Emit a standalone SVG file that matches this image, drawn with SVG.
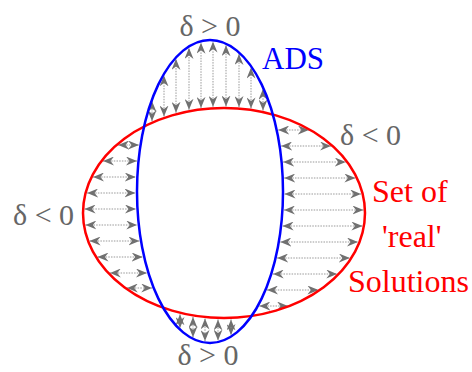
<svg xmlns="http://www.w3.org/2000/svg" width="472" height="372" viewBox="0 0 472 372">
<style>
.arr{stroke:#999999;stroke-width:1;stroke-dasharray:1.5 1.2;fill:none;marker-start:url(#head);marker-end:url(#head)}
.lbl{font-family:"Liberation Serif","Times New Roman",serif;font-size:30px;fill:#666}
.red{font-family:"Liberation Serif","Times New Roman",serif;font-size:32px;fill:#ff0000}
.blue{font-family:"Liberation Serif","Times New Roman",serif;font-size:31px;fill:#0000ff}
</style>
<defs>
<marker id="head" markerUnits="userSpaceOnUse" markerWidth="11" markerHeight="9" refX="11" refY="4.5" orient="auto-start-reverse" viewBox="0 0 11 9">
<path d="M0,0 L11,4.5 L0,9 L3.5,4.5 Z" fill="#707070"/>
</marker>
</defs>
<rect width="472" height="372" fill="#ffffff"/>
<g id="connectors">
<line class="arr" x1="152" y1="121.2" x2="152" y2="101"/>
<line class="arr" x1="164" y1="116.5" x2="164" y2="75.4"/>
<line class="arr" x1="176" y1="112.8" x2="176" y2="58.9"/>
<line class="arr" x1="189" y1="109.8" x2="189" y2="47.9"/>
<line class="arr" x1="201" y1="107.9" x2="201" y2="42.7"/>
<line class="arr" x1="213" y1="106.8" x2="213" y2="41.6"/>
<line class="arr" x1="226" y1="106.5" x2="226" y2="45.2"/>
<line class="arr" x1="239" y1="107.1" x2="239" y2="54"/>
<line class="arr" x1="251" y1="108.4" x2="251" y2="67.6"/>
<line class="arr" x1="263" y1="110.6" x2="263" y2="88.8"/>
<line class="arr" x1="278.2" y1="130" x2="308.9" y2="130"/>
<line class="arr" x1="281.1" y1="146" x2="331.1" y2="146"/>
<line class="arr" x1="283.1" y1="162" x2="345.8" y2="162"/>
<line class="arr" x1="284.2" y1="178" x2="355.4" y2="178"/>
<line class="arr" x1="284.5" y1="194" x2="361.2" y2="194"/>
<line class="arr" x1="284" y1="210" x2="363.5" y2="210"/>
<line class="arr" x1="282.6" y1="226" x2="362.4" y2="226"/>
<line class="arr" x1="280.3" y1="242" x2="358" y2="242"/>
<line class="arr" x1="277.1" y1="258" x2="349.9" y2="258"/>
<line class="arr" x1="272.7" y1="274" x2="337.3" y2="274"/>
<line class="arr" x1="267" y1="290" x2="318.4" y2="290"/>
<line class="arr" x1="259.3" y1="306" x2="288" y2="306"/>
<line class="arr" x1="118.1" y1="145" x2="139" y2="145"/>
<line class="arr" x1="103" y1="161" x2="137" y2="161"/>
<line class="arr" x1="93" y1="177" x2="135.8" y2="177"/>
<line class="arr" x1="87.1" y1="193" x2="135.5" y2="193"/>
<line class="arr" x1="84.6" y1="209" x2="136" y2="209"/>
<line class="arr" x1="85.4" y1="225" x2="137.3" y2="225"/>
<line class="arr" x1="89.6" y1="241" x2="139.5" y2="241"/>
<line class="arr" x1="97.5" y1="257" x2="142.7" y2="257"/>
<line class="arr" x1="109.8" y1="273" x2="147" y2="273"/>
<line class="arr" x1="126.8" y1="288" x2="152.2" y2="288"/>
<line class="arr" x1="180" y1="314.3" x2="180" y2="328.1"/>
<line class="arr" x1="193" y1="316.9" x2="193" y2="337.3"/>
<line class="arr" x1="205" y1="318.5" x2="205" y2="341.1"/>
<line class="arr" x1="218" y1="319.4" x2="218" y2="340.6"/>
<line class="arr" x1="231" y1="319.4" x2="231" y2="335.1"/>
</g>
<g id="real-solutions">
<ellipse cx="224" cy="213" rx="141" ry="105" fill="none" stroke="#ff0000" stroke-width="2.5"/>
<text class="red" x="372" y="202">Set of</text>
<text class="red" x="382" y="247">'real'</text>
<text class="red" x="348" y="292">Solutions</text>
</g>
<g id="ads">
<ellipse cx="210" cy="191.5" rx="73" ry="151.5" fill="none" stroke="#0000ff" stroke-width="2.5"/>
<text class="blue" x="262" y="69">ADS</text>
</g>
<g id="labels">
<text class="lbl" x="210" y="36" text-anchor="middle">δ &gt; 0</text>
<text class="lbl" x="340" y="145">δ &lt; 0</text>
<text class="lbl" x="13" y="225">δ &lt; 0</text>
<text class="lbl" x="208" y="365" text-anchor="middle">δ &gt; 0</text>
</g>
</svg>
